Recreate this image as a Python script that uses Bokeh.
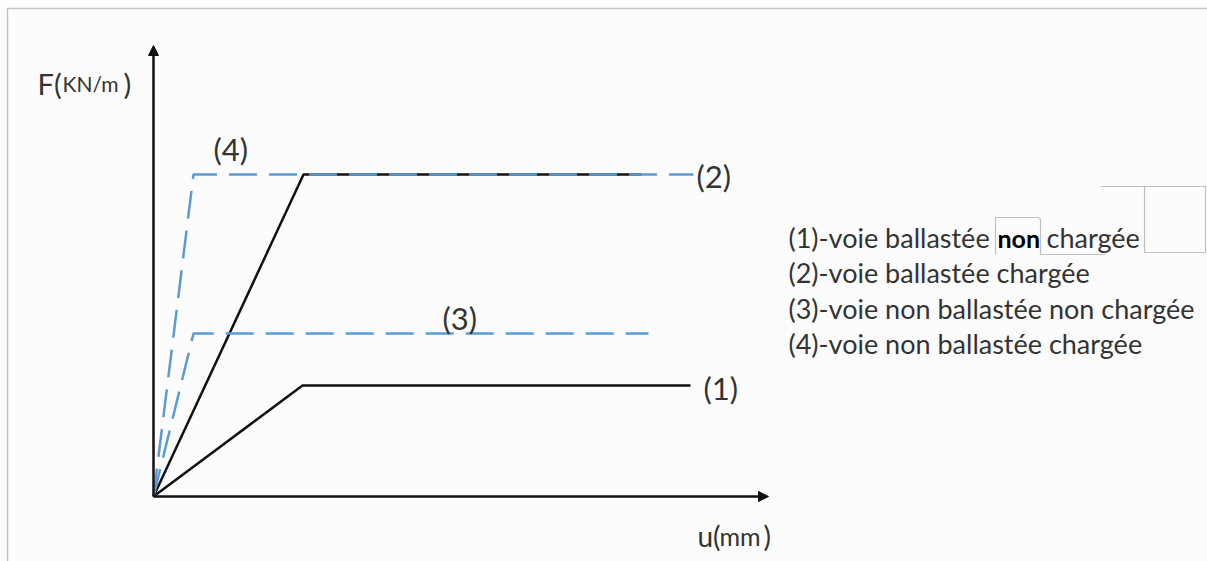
from bokeh.plotting import figure
from bokeh.models import Range1d, Arrow, NormalHead
from bokeh.core.properties import value
from bokeh.embed import file_html
from bokeh.resources import INLINE

# ---- schematic data (u in arbitrary mm units, F in arbitrary kN/m units) ----
u1 = [0, 14.9, 53.7]; F1 = [0, 11.1, 11.1]   # (1) voie ballastée non chargée
u2 = [0, 15.0, 48.8]; F2 = [0, 32.2, 32.2]   # (2) voie ballastée chargée
u3 = [0, 4.0, 49.5];  F3 = [0, 16.3, 16.3]   # (3) voie non ballastée non chargée
u4 = [0, 4.0, 54.0];  F4 = [0, 32.2, 32.2]   # (4) voie non ballastée chargée

curve_labels = ["(1)", "(2)", "(3)", "(4)"]
curve_label_u = [55.0, 54.3, 28.9, 6.0]
curve_label_F = [10.9, 32.1, 17.9, 34.8]

legend_items = ["(1)-voie ballastée", "(2)-voie ballastée chargée",
                "(3)-voie non ballastée non chargée", "(4)-voie non ballastée chargée"]
legend_u = 63.5
legend_F = [25.9, 22.4, 18.8, 15.3]

u_axis_end = 61.5
F_axis_end = 45.1

BLACK = "#111111"
BLUE = "#5b9bd5"
TEXT = "#333333"
FONT = value("Lato")

p = figure(width=1207, height=561, output_backend="svg", toolbar_location=None,
           x_range=Range1d(-15.3, 105.4), y_range=Range1d(-6.5, 49.6),
           min_border=0, background_fill_color="#fcfcfc", border_fill_color="white")
p.axis.visible = False
p.grid.visible = False
p.outline_line_color = None

# picture border (top and left)
p.multi_line(xs=[[-14.6, 105.4], [-14.6, -14.6]], ys=[[48.8, 48.8], [48.8, -6.5]],
             line_color="#c4c4c4", line_width=1.5)

# axes with arrows
p.add_layout(Arrow(end=NormalHead(size=10, fill_color=BLACK, line_color=BLACK),
                   x_start=0, y_start=0, x_end=0, y_end=F_axis_end,
                   line_color=BLACK, line_width=2.5))
p.add_layout(Arrow(end=NormalHead(size=10, fill_color=BLACK, line_color=BLACK),
                   x_start=0, y_start=0, x_end=u_axis_end, y_end=0,
                   line_color=BLACK, line_width=2.5))

# curves
p.line(u1, F1, line_color=BLACK, line_width=2.5)
p.line(u2, F2, line_color=BLACK, line_width=2.5)
p.line(u3, F3, line_color=BLUE, line_width=2.5, line_dash="28 12")
p.line(u4, F4, line_color=BLUE, line_width=2.5, line_dash="28 12")

# curve labels
p.text(x=curve_label_u, y=curve_label_F, text=curve_labels, text_font=FONT,
       text_font_size=value("31px"), text_color=TEXT, text_baseline="middle", text_align="left")

# axis titles
p.text(x=[-11.6], y=[41.3], text=["F("], text_font=FONT, text_font_size=value("29px"),
       text_color=TEXT, text_baseline="alphabetic")
p.text(x=[-9.1], y=[41.3], text=["KN/m"], text_font=FONT, text_font_size=value("21px"),
       text_color=TEXT, text_baseline="alphabetic")
p.text(x=[-3.0], y=[41.3], text=[")"], text_font=FONT, text_font_size=value("29px"),
       text_color=TEXT, text_baseline="alphabetic")
p.text(x=[54.4], y=[-3.9], text=["u("], text_font=FONT, text_font_size=value("28px"),
       text_color=TEXT, text_baseline="alphabetic")
p.text(x=[56.6], y=[-3.9], text=["mm"], text_font=FONT, text_font_size=value("25px"),
       text_color=TEXT, text_baseline="alphabetic")
p.text(x=[61.0], y=[-3.9], text=[")"], text_font=FONT, text_font_size=value("28px"),
       text_color=TEXT, text_baseline="alphabetic")

# legend text
p.text(x=[legend_u] * 4, y=legend_F, text=legend_items, text_font=FONT,
       text_font_size=value("27px"), text_color=TEXT, text_baseline="middle", text_align="left")
p.text(x=[84.4], y=[legend_F[0]], text=["non"], text_font=FONT, text_font_size=value("25px"),
       text_font_style="bold", text_color="black", text_baseline="middle")
p.text(x=[89.3], y=[legend_F[0]], text=["chargée"], text_font=FONT, text_font_size=value("27px"),
       text_color=TEXT, text_baseline="middle")

# editing boxes around "non" and the empty box
p.multi_line(xs=[[84.2, 84.2, 88.5, 88.7, 88.7, 95.2], [94.7, 105.2, 105.2, 99.1, 99.1]],
             ys=[[24.2, 27.9, 27.9, 27.7, 24.2, 24.2], [31.0, 31.0, 24.4, 24.4, 31.0]],
             line_color="#c0c0c0", line_width=1.2)

open("out.html", "w").write(file_html(p, INLINE))
